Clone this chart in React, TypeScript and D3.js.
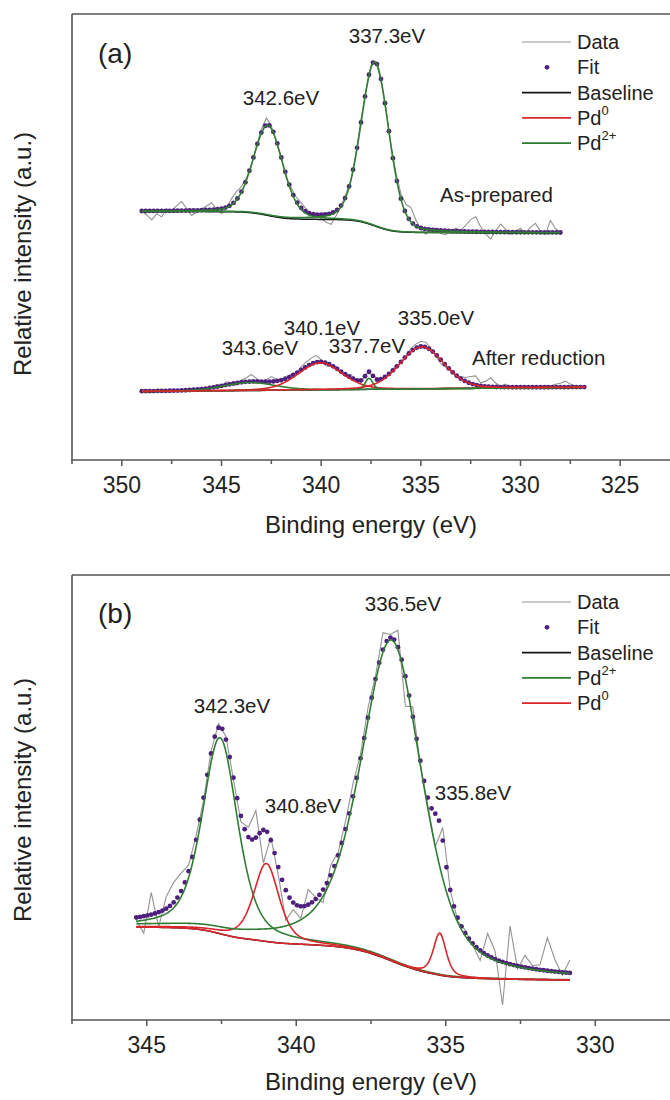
import React from 'react';
import * as d3 from 'd3';

const FONT = '"Liberation Sans", Arial, Helvetica, sans-serif';

// ---------------- data ----------------
// x-axis ticks (binding energy, eV)
const xTicksA = [350, 345, 340, 335, 330, 325];
const xMinorA = [352.5, 347.5, 342.5, 337.5, 332.5, 327.5];
const xTicksB = [345, 340, 335, 330];
const xMinorB = [347.5, 342.5, 337.5, 332.5];

type Peak = { species: 'Pd0' | 'Pd2+'; center: number; height: number; fwhm: number; eta: number };

// (a) As-prepared : energy range, Shirley background end levels, fitted components
const asPrepRange = [349.0, 328.0];
const asPrepBackground = [248.5, 227.2];
const asPrepPeaks: Peak[] = [
  { species: 'Pd2+', center: 342.67, height: 90, fwhm: 1.75, eta: 0.2 },
  { species: 'Pd2+', center: 337.3, height: 164, fwhm: 1.65, eta: 0.2 },
];
// measured data minus fit, one value per 0.25 eV step
const asPrepResidual = [
  0, -4, -9, -3, -6, 2, 0, 5, 9, 2, -5, -2, 1, 4, 7, 0, -5, -1, 6, 8,
  5, 2, -2, 1, 3, 7, 2, -2, 0, -3, 2, 4, 5, 3, -1, 0, -4, -8, -11, -5,
  0, 2, -1, 1, 3, 0, 2, 1, -2, 1, 0, 3, 5, 9, 14, 6, -2, -5, -1, 2,
  -3, -4, 0, 3, 1, 6, 12, 15, 5, -2, -7, 1, 8, 3, -2, 1, 4, -1, 5, 9,
  1, -2, 12, 4, 0,
];

// (a) After reduction : linear background end levels
const afterRedRange = [349.0, 326.75];
const afterRedBackground = [68.5, 72.7];
const afterRedPeaks: Peak[] = [
  { species: 'Pd2+', center: 343.6, height: 8, fwhm: 3.0, eta: 0.2 },
  { species: 'Pd0', center: 340.05, height: 27, fwhm: 2.6, eta: 0.2 },
  { species: 'Pd2+', center: 337.6, height: 11, fwhm: 0.45, eta: 0.2 },
  { species: 'Pd0', center: 334.95, height: 42, fwhm: 2.6, eta: 0.2 },
];
const afterRedResidual = [
  0, 1, -1, 0, 1, -1, 0, 1, 0, -1, 1, 0, 2, -1, 1, 2, 0, 3, 1, -2,
  2, 4, 7, 3, -1, 2, 5, 2, -2, 1, 2, 0, 3, 5, 6, 7, 2, -3, -1, 2,
  -2, 1, 3, -1, -2, 1, -1, 2, 0, -2, 1, 2, -1, 1, 3, 4, 5, 5, 2, -1,
  -4, -2, 1, -1, 2, 4, 7, 9, 3, 5, 9, 4, 1, 3, 0, -1, 2, 0, -1, 1,
  0, 2, 1, 3, 4, 6, 3, 1, 0, 0,
];

// (b) : Shirley background end levels, fitted components
const panelBRange = [345.35, 330.85];
const panelBBackground = [93, 40];
const panelBPeaks: Peak[] = [
  { species: 'Pd2+', center: 342.55, height: 196, fwhm: 1.4, eta: 0.5 },
  { species: 'Pd0', center: 341.0, height: 78, fwhm: 1.0, eta: 0.5 },
  { species: 'Pd2+', center: 336.8, height: 321, fwhm: 2.45, eta: 0.5 },
  { species: 'Pd0', center: 335.2, height: 42, fwhm: 0.5, eta: 0.5 },
];
const panelBResidual = [
  -3, -17, 22, -15, 12, 20, 18, 6, 4, -3, 2, 4, 3, -2, -6, 10, 27, -33, 3, -8,
  -30, -7, -12, 15, 2, -13, 10, 3, 8, 13, 4, 10, 3, 17, 3, 17, -30, 10, -4, -8,
  -33, 13, 0, -3, 3, -2, -10, 22, 8, -43, 38, -3, 12, 3, 5, 33, 12, -3, 13,
];

// ---------------- model helpers ----------------
const COLORS: Record<string, string> = { 'Pd0': '#d8262c', 'Pd2+': '#2f7d32' };
const DATA_COLOR = '#939393';
const FIT_COLOR = '#4e1f7c';

function pv(E: number, p: Peak) {
  const t = (E - p.center) / p.fwhm;
  return p.height * ((1 - p.eta) * Math.exp(-4 * Math.LN2 * t * t) + p.eta / (1 + 4 * t * t));
}

type Spec = {
  range: number[];
  bg: 'shirley' | 'linear';
  bgLevels: number[];
  peaks: Peak[];
  resid: number[];
  fine: number;      // model grid step (eV)
  fitEvery: number;  // fit points every n grid steps
  dataEvery: number; // data points every n grid steps
};

function buildModel(s: Spec) {
  const fine = s.fine;
  const [start, end] = s.range;
  const n = Math.round((start - end) / fine) + 1;
  const E = d3.range(n).map((k) => start - k * fine);
  const comps = s.peaks.map((p) => E.map((e) => pv(e, p)));
  const sum = E.map((_, k) => d3.sum(comps, (c) => c[k]));
  let base: number[];
  if (s.bg === 'shirley') {
    const cum = new Array(n).fill(0);
    for (let k = n - 2; k >= 0; k--) cum[k] = cum[k + 1] + ((sum[k] + sum[k + 1]) / 2) * fine;
    const tot = cum[0];
    base = cum.map((c) => s.bgLevels[1] + (s.bgLevels[0] - s.bgLevels[1]) * (c / tot));
  } else {
    base = E.map((e) => s.bgLevels[0] + (s.bgLevels[1] - s.bgLevels[0]) * ((start - e) / (start - end)));
  }
  const total = (k: number) => base[k] + sum[k];
  const fit = d3.range(0, n, s.fitEvery).map((k) => ({ E: E[k], v: total(k) }));
  const data = d3
    .range(0, n, s.dataEvery)
    .map((k, i) => ({ E: E[k], v: total(k) + (s.resid[i] ?? 0) }));
  const baseline = E.map((e, k) => ({ E: e, v: base[k] }));
  const compLines = s.peaks.map((p, j) => ({
    species: p.species,
    pts: E.map((e, k) => ({ E: e, v: base[k] + comps[j][k] })),
  }));
  return { fit, data, baseline, compLines };
}

// ---------------- rendering ----------------
type PanelProps = {
  left: number; right: number; top: number; bottom: number;
  domain: number[]; yMax: number;
  ticks: number[]; minor: number[];
  specs: Spec[];
};

function Spectrum({ s, x, y }: { s: Spec; x: any; y: any }) {
  const m = buildModel(s);
  const line = d3.line<{ E: number; v: number }>().x((d) => x(d.E)).y((d) => y(d.v));
  return (
    <g>
      <path d={line(m.data) || ''} fill="none" stroke={DATA_COLOR} strokeWidth={1.1} />
      {m.fit.map((d, i) => (
        <circle key={i} cx={x(d.E)} cy={y(d.v)} r={2.4} fill={FIT_COLOR} />
      ))}
      <path d={line(m.baseline) || ''} fill="none" stroke="#151515" strokeWidth={1.5} />
      {m.compLines.map((c, i) => (
        <path key={i} d={line(c.pts) || ''} fill="none" stroke={COLORS[c.species]} strokeWidth={1.6} />
      ))}
    </g>
  );
}

function Panel(p: PanelProps) {
  const x = d3.scaleLinear().domain(p.domain).range([p.left, p.right]);
  const y = d3.scaleLinear().domain([0, p.yMax]).range([p.bottom, p.top]);
  const frame = '#555';
  return (
    <g>
      {p.specs.map((s, i) => (
        <Spectrum key={i} s={s} x={x} y={y} />
      ))}
      <line x1={p.left} x2={p.right} y1={p.top} y2={p.top} stroke={frame} strokeWidth={1.6} />
      <line x1={p.left} x2={p.left} y1={p.top} y2={p.bottom} stroke={frame} strokeWidth={1.6} />
      <line x1={p.left - 1} x2={p.right} y1={p.bottom} y2={p.bottom} stroke={frame} strokeWidth={1.6} />
      {p.ticks.map((t) => (
        <g key={t}>
          <line x1={x(t)} x2={x(t)} y1={p.bottom} y2={p.bottom + 6} stroke={frame} strokeWidth={1.5} />
          <text x={x(t)} y={p.bottom + 33} textAnchor="middle" fontSize={23} fill="#222" fontFamily={FONT}>
            {t}
          </text>
        </g>
      ))}
      {p.minor.map((t) => (
        <line key={t} x1={x(t)} x2={x(t)} y1={p.bottom} y2={p.bottom + 4} stroke={frame} strokeWidth={1.5} />
      ))}
    </g>
  );
}

function Legend({ x0, y0, items }: { x0: number; y0: number; items: { label: string; sup?: string; kind: string; color: string }[] }) {
  const gap = 25.3;
  return (
    <g fontFamily={FONT} fontSize={20} fill="#222">
      {items.map((it, i) => {
        const cy = y0 + i * gap;
        return (
          <g key={i}>
            {it.kind === 'line' ? (
              <line x1={x0} x2={x0 + 49} y1={cy} y2={cy} stroke={it.color} strokeWidth={it.color === DATA_COLOR ? 1.2 : 1.8} />
            ) : (
              <circle cx={x0 + 25} cy={cy} r={2.4} fill={it.color} />
            )}
            <text x={x0 + 55} y={cy + 7}>
              {it.label}
              {it.sup ? (
                <tspan dy={-10} fontSize={13}>
                  {it.sup}
                </tspan>
              ) : null}
            </text>
          </g>
        );
      })}
    </g>
  );
}

export default function App() {
  const specsA: Spec[] = [
    { range: asPrepRange, bg: 'shirley', bgLevels: asPrepBackground, peaks: asPrepPeaks, resid: asPrepResidual, fine: 0.05, fitEvery: 4, dataEvery: 5 },
    { range: afterRedRange, bg: 'linear', bgLevels: afterRedBackground, peaks: afterRedPeaks, resid: afterRedResidual, fine: 0.05, fitEvery: 4, dataEvery: 5 },
  ];
  const specsB: Spec[] = [
    { range: panelBRange, bg: 'shirley', bgLevels: panelBBackground, peaks: panelBPeaks, resid: panelBResidual, fine: 0.025, fitEvery: 5, dataEvery: 10 },
  ];
  const legendA = [
    { label: 'Data', kind: 'line', color: DATA_COLOR },
    { label: 'Fit', kind: 'dot', color: FIT_COLOR },
    { label: 'Baseline', kind: 'line', color: '#151515' },
    { label: 'Pd', sup: '0', kind: 'line', color: COLORS['Pd0'] },
    { label: 'Pd', sup: '2+', kind: 'line', color: COLORS['Pd2+'] },
  ];
  const legendB = [
    { label: 'Data', kind: 'line', color: DATA_COLOR },
    { label: 'Fit', kind: 'dot', color: FIT_COLOR },
    { label: 'Baseline', kind: 'line', color: '#151515' },
    { label: 'Pd', sup: '2+', kind: 'line', color: COLORS['Pd2+'] },
    { label: 'Pd', sup: '0', kind: 'line', color: COLORS['Pd0'] },
  ];
  const t = { fontFamily: FONT, fill: '#222' } as const;
  return (
    <svg width={670} height={1100} style={{ position: 'absolute', left: 0, top: 0, background: '#fff' }}>
      <rect width={670} height={1100} fill="#fff" />
      <Panel left={72} right={670} top={14} bottom={460} domain={[352.5, 322.5]} yMax={446}
        ticks={xTicksA} minor={xMinorA} specs={specsA} />
      <Panel left={72} right={670} top={575} bottom={1020} domain={[347.5, 327.5]} yMax={445}
        ticks={xTicksB} minor={xMinorB} specs={specsB} />

      <Legend x0={522} y0={42} items={legendA} />
      <Legend x0={522} y0={602} items={legendB} />

      {/* panel (a) text */}
      <text x={98} y={63} fontSize={28} {...t}>(a)</text>
      <text x={387} y={43} fontSize={20.5} textAnchor="middle" {...t}>337.3eV</text>
      <text x={281} y={105} fontSize={20.5} textAnchor="middle" {...t}>342.6eV</text>
      <text x={440} y={202} fontSize={20.5} {...t}>As-prepared</text>
      <text x={472} y={365} fontSize={20.5} {...t}>After reduction</text>
      <text x={436} y={325} fontSize={20.5} textAnchor="middle" {...t}>335.0eV</text>
      <text x={322} y={335} fontSize={20.5} textAnchor="middle" {...t}>340.1eV</text>
      <text x={367} y={353} fontSize={20.5} textAnchor="middle" {...t}>337.7eV</text>
      <text x={260} y={355} fontSize={20.5} textAnchor="middle" {...t}>343.6eV</text>
      <text x={371} y={533} fontSize={24} textAnchor="middle" {...t}>Binding energy (eV)</text>
      <text transform="translate(31,254) rotate(-90)" fontSize={24} textAnchor="middle" {...t}>Relative intensity (a.u.)</text>

      {/* panel (b) text */}
      <text x={98} y={623} fontSize={28} {...t}>(b)</text>
      <text x={403} y={611} fontSize={20.5} textAnchor="middle" {...t}>336.5eV</text>
      <text x={232} y={713} fontSize={20.5} textAnchor="middle" {...t}>342.3eV</text>
      <text x={303} y={813} fontSize={20.5} textAnchor="middle" {...t}>340.8eV</text>
      <text x={473} y={800} fontSize={20.5} textAnchor="middle" {...t}>335.8eV</text>
      <text x={371} y={1090} fontSize={24} textAnchor="middle" {...t}>Binding energy (eV)</text>
      <text transform="translate(31,800) rotate(-90)" fontSize={24} textAnchor="middle" {...t}>Relative intensity (a.u.)</text>
    </svg>
  );
}
